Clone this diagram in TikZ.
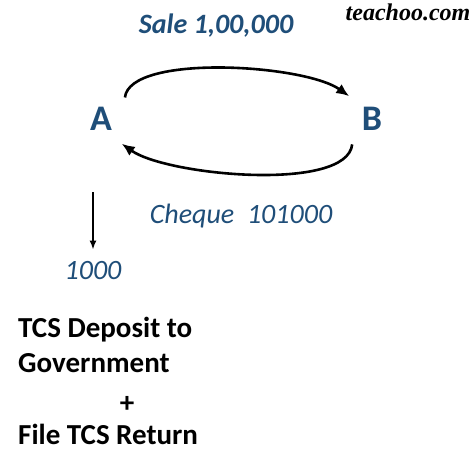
\documentclass[tikz,border=0pt]{standalone}
\usepackage{fontspec}
\setmainfont{Carlito}
\newfontfamily\brandfont{Liberation Serif}
\usepackage{tikz}
\usetikzlibrary{positioning,arrows.meta}
\definecolor{tcsblue}{RGB}{31,78,121}
\tikzstyle{arrow} = [line width=2.6pt,-{Latex[length=13pt,width=11pt]}]
\tikzstyle{thinarrow} = [line width=2pt,-{Latex[length=9pt,width=7pt]}]
\tikzset{
 party/.style
  = {circle, inner sep=0pt, minimum size=64pt, text=tcsblue,
     font=\fontsize{36}{40}\selectfont\bfseries},
 flow/.style
  = {inner sep=0pt, text=tcsblue, font=\fontsize{28}{30}\selectfont\itshape},
 note/.style
  = {inner sep=0pt, anchor=base west, font=\fontsize{29}{32}\selectfont\bfseries},
}

\begin{document}
\begin{tikzpicture}[x=1pt,y=-1pt]
\useasboundingbox (0,0) rectangle (474,459);
\fill[white] (0,0) rectangle (474,459);

% Brand
\node[inner sep=0pt,font=\brandfont\fontsize{24}{26}\selectfont\bfseries\itshape] (brand) at (408,12) {teachoo.com};

% Parties
\node[party] (A) at (101,119) {A};
\node[party] (B) at (372,119) {B};

% Flows between A and B
\node[flow,font=\fontsize{28}{30}\selectfont\bfseries\itshape] (sale) at (216,26) {Sale 1,00,000};
\node[flow] (cheque) at (241,216) {Cheque\ \ 101000};

\draw[arrow] (A.42) .. controls +(5,-44) and +(-45,-32) .. (B.135);
\draw[arrow] (B.232) .. controls +(-5,48) and +(45,32) .. (A.310);

% TCS amount
\coordinate (tcstop) at (93,192);
\node[flow] (amt) at (93,271) {1000};
\draw[thinarrow,shorten >=12pt] (tcstop) -- (tcstop |- amt.north);

% Obligations
\node[note] (dep) at (18,337) {TCS Deposit to};
\node[note] (gov) at (18,372) {Government};
\node[note,anchor=base] (plus) at (127,412) {+};
\node[note] (ret) at (18,444) {File TCS Return};

\end{tikzpicture}
\end{document}
